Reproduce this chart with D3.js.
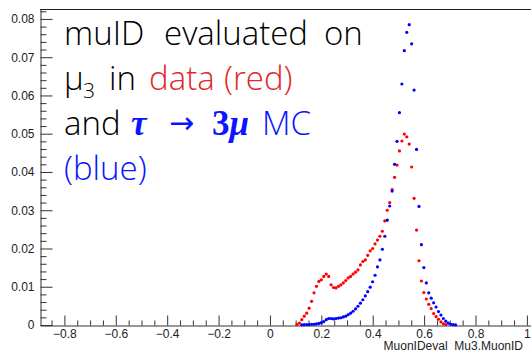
<!DOCTYPE html>
<html>
<head>
<meta charset="utf-8">
<script src="https://cdn.jsdelivr.net/npm/d3@7"></script>
<style>
  html, body { margin: 0; padding: 0; background: #fff; }
  svg { display: block; }
</style>
</head>
<body>
<div id="chart"></div>
<script>
// bin centres of the histograms (MuonIDeval_Mu3.MuonID)
const binCenters = [
  0.105, 0.1145, 0.124, 0.1335, 0.143, 0.1525, 0.162, 0.1715, 0.181, 0.1905,
  0.200, 0.2095, 0.219, 0.2285, 0.238, 0.2475, 0.257, 0.2665, 0.276, 0.2855,
  0.295, 0.3045, 0.314, 0.3235, 0.333, 0.3425, 0.352, 0.3615, 0.371, 0.3805,
  0.390, 0.3995, 0.409, 0.4185, 0.428, 0.4375, 0.447, 0.4565, 0.466, 0.4755,
  0.485, 0.4945, 0.504, 0.5135, 0.523, 0.5325, 0.542, 0.5515, 0.561, 0.5705,
  0.580, 0.5895, 0.599, 0.6085, 0.618, 0.6275, 0.637, 0.6465, 0.656, 0.6655,
  0.675, 0.6845, 0.694, 0.7035, 0.713, 0.7225
];

// data (red), null = empty bin
const dataValues = [
  0.0001, 0.0005, 0.0014, 0.0023, 0.0031, 0.0044, 0.0062, 0.0084, 0.0101, 0.0114,
  0.0118, 0.0127, 0.0133, 0.0127, 0.0105, 0.0098, 0.0097, 0.0101, 0.0105, 0.0110,
  0.0116, 0.0123, 0.0127, 0.0133, 0.0138, 0.0144, 0.0157, 0.0166, 0.0170, 0.0182,
  0.0194, 0.0200, 0.0212, 0.0222, 0.0232, 0.0245, 0.0272, 0.0300, 0.0320, 0.0354,
  0.0386, 0.0418, 0.0455, 0.0481, 0.0499, 0.0492, 0.0473, 0.0413, 0.0331, 0.0248,
  0.0168, 0.0115, 0.0085, 0.0068, 0.0054, 0.0043, 0.0030, 0.0022, 0.0015, 0.0008,
  0.0003, 0.0001, null, null, null, null
];

// tau -> 3mu MC (blue)
const mcValues = [
  null, null, 0.00005, 0.0001, 0.0001, 0.0001, 0.0002, 0.0002, 0.0003, 0.0004,
  0.0006, 0.0009, 0.0014, 0.0017, 0.0017, 0.0016, 0.0017, 0.0018, 0.0019, 0.0021,
  0.0023, 0.0027, 0.0031, 0.0036, 0.0042, 0.0049, 0.0057, 0.0066, 0.0076, 0.0087,
  0.0099, 0.0113, 0.0130, 0.0152, 0.0170, 0.0198, 0.0232, 0.0274, 0.0311, 0.0350,
  0.0420, 0.0480, 0.0555, 0.0630, 0.0717, 0.0765, 0.0785, 0.0735, 0.0614, 0.0459,
  0.0310, 0.0210, 0.0150, 0.0110, 0.0084, 0.0070, 0.0058, 0.0047, 0.0035, 0.0026,
  0.0017, 0.0010, 0.0005, 0.0002, 0.0001, 0.00005
];

const xMajorTicks = [-0.8, -0.6, -0.4, -0.2, 0, 0.2, 0.4, 0.6, 0.8, 1];
const xMinorTicks = [-0.85, -0.75, -0.7, -0.65, -0.55, -0.5, -0.45, -0.35, -0.3, -0.25,
  -0.15, -0.1, -0.05, 0.05, 0.1, 0.15, 0.25, 0.3, 0.35, 0.45, 0.5, 0.55, 0.65, 0.7, 0.75,
  0.85, 0.9, 0.95];
const yMajorTicks = [0, 0.01, 0.02, 0.03, 0.04, 0.05, 0.06, 0.07, 0.08];
const yMinorTicks = [0.002, 0.004, 0.006, 0.008, 0.012, 0.014, 0.016, 0.018, 0.022, 0.024,
  0.026, 0.028, 0.032, 0.034, 0.036, 0.038, 0.042, 0.044, 0.046, 0.048, 0.052, 0.054,
  0.056, 0.058, 0.062, 0.064, 0.066, 0.068, 0.072, 0.074, 0.076, 0.078, 0.082];

const xTitle = "MuonIDeval_Mu3.MuonID";

const W = 531, H = 352;
const frame = { left: 40, top: 9, right: 531, bottom: 325 };

const svg = d3.select("#chart").append("svg")
  .attr("width", W)
  .attr("height", H);

const x = d3.scaleLinear().domain([-0.895, 1.016]).range([frame.left, frame.right]);
const y = d3.scaleLinear().domain([0, 0.0826]).range([frame.bottom, frame.top]);

const fmt = d => String(+d.toFixed(3)).replace("-", "\u2212");
const axisFont = "'Liberation Sans', Arial, sans-serif";

// top frame line
svg.append("line")
  .attr("x1", frame.left).attr("x2", frame.right)
  .attr("y1", frame.top + 0.5).attr("y2", frame.top + 0.5)
  .attr("stroke", "#222").attr("stroke-width", 1);

// y axis (ticks point into the frame)
svg.append("g")
  .attr("transform", `translate(${frame.left + 0.5},0)`)
  .call(d3.axisLeft(y).tickValues(yMajorTicks).tickFormat(fmt)
    .tickSizeInner(-12).tickSizeOuter(0).tickPadding(6));
svg.append("g")
  .attr("transform", `translate(${frame.left + 0.5},0)`)
  .call(d3.axisLeft(y).tickValues(yMinorTicks).tickFormat("")
    .tickSizeInner(-6).tickSizeOuter(0))
  .select(".domain").remove();

// x axis
svg.append("g")
  .attr("transform", `translate(0,${frame.bottom + 0.5})`)
  .call(d3.axisBottom(x).tickValues(xMajorTicks).tickFormat(fmt)
    .tickSizeInner(-10).tickSizeOuter(0).tickPadding(4));
svg.append("g")
  .attr("transform", `translate(0,${frame.bottom + 0.5})`)
  .call(d3.axisBottom(x).tickValues(xMinorTicks).tickFormat("")
    .tickSizeInner(-5).tickSizeOuter(0))
  .select(".domain").remove();

svg.selectAll(".tick line, .domain").attr("stroke", "#333");
svg.selectAll(".tick text")
  .attr("font-family", axisFont)
  .attr("font-size", 12)
  .attr("fill", "#222");

svg.append("text")
  .attr("x", 523)
  .attr("y", 350)
  .attr("text-anchor", "end")
  .attr("font-family", axisFont)
  .attr("font-size", 12)
  .attr("fill", "#222")
  .text(xTitle);

// markers
function drawSeries(values, color) {
  const pts = binCenters.map((c, i) => ({ c: c, v: values[i] })).filter(d => d.v != null);
  svg.append("g").selectAll("circle")
    .data(pts)
    .enter()
    .append("circle")
    .attr("cx", d => x(d.c))
    .attr("cy", d => y(d.v))
    .attr("r", 1.6)
    .attr("fill", color);
}
drawSeries(dataValues, "#ff0000");
drawSeries(mcValues, "#0000ff");

// annotation, placed word by word like the slide text
const textFont = "'Open Sans', Lato, sans-serif";
const mathFont = "'Liberation Serif', 'DejaVu Serif', serif";
const red = "#e0282c", blue = "#0a14ff";
const note = svg.append("g")
  .attr("font-family", textFont)
  .attr("font-size", 33)
  .attr("font-weight", 300)
  .attr("fill", "#000");

const l1 = note.append("text").attr("y", 45);
l1.append("tspan").attr("x", 64).text("muID");
l1.append("tspan").attr("x", 164).text("evaluated");
l1.append("tspan").attr("x", 324).text("on");

const l2 = note.append("text").attr("y", 90);
l2.append("tspan").attr("x", 64).text("\u00b5");
l2.append("tspan").attr("x", 83).attr("dy", 8).attr("font-size", 21).text("3");
l2.append("tspan").attr("x", 109).attr("dy", -8).text("in");
l2.append("tspan").attr("x", 149).attr("fill", red).text("data");
l2.append("tspan").attr("x", 224).attr("fill", red).text("(red)");

const l3 = note.append("text").attr("y", 135);
l3.append("tspan").attr("x", 64).text("and");
l3.append("tspan").attr("x", 131).attr("fill", blue)
  .attr("font-family", mathFont).attr("font-style", "italic").attr("font-weight", "bold")
  .attr("font-size", 35).text("\u03c4");
l3.append("tspan").attr("x", 169).attr("dy", -2).attr("fill", blue)
  .attr("font-family", "'DejaVu Sans', sans-serif").attr("font-weight", "normal")
  .attr("font-size", 30).text("\u2192");
l3.append("tspan").attr("x", 212).attr("dy", 2).attr("fill", blue)
  .attr("font-family", mathFont).attr("font-weight", "bold").attr("font-size", 35).text("3");
l3.append("tspan").attr("fill", blue)
  .attr("font-family", mathFont).attr("font-style", "italic").attr("font-weight", "bold")
  .attr("font-size", 35).text("\u03bc");
l3.append("tspan").attr("x", 262).attr("fill", blue).text("MC");

note.append("text").attr("x", 64).attr("y", 180).attr("fill", blue).text("(blue)");
</script>
</body>
</html>
